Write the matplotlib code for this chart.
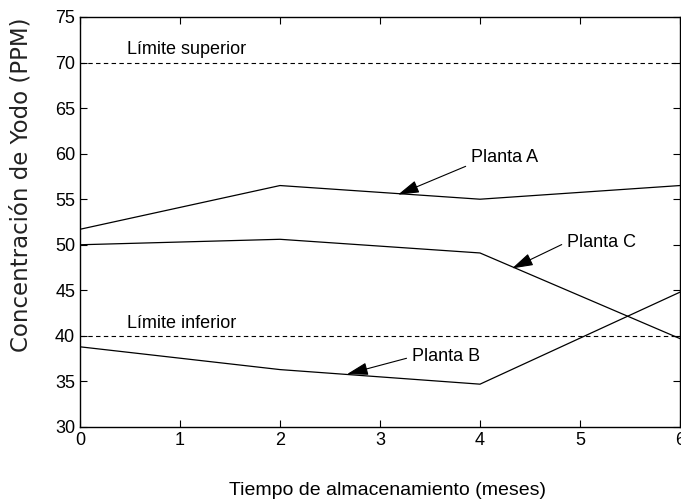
import matplotlib
matplotlib.use("Agg")
import matplotlib.pyplot as plt

# Data
meses = [0, 2, 4, 6]
planta_a = [51.7, 56.5, 55.0, 56.5]
planta_b = [38.8, 36.3, 34.7, 44.8]
planta_c = [50.0, 50.6, 49.1, 39.7]
limite_superior = 70
limite_inferior = 40
x_ticks = [0, 1, 2, 3, 4, 5, 6]
y_ticks = [30, 35, 40, 45, 50, 55, 60, 65, 70, 75]

plt.rcParams["font.family"] = ["Liberation Sans", "DejaVu Sans"]

fig = plt.figure(figsize=(6.81, 5.04), dpi=100)
ax = fig.add_axes([0.1175, 0.1528, 0.881, 0.8135])

for serie in (planta_a, planta_b, planta_c):
    ax.plot(meses, serie, color="black", lw=0.9)

ax.axhline(limite_superior, color="black", lw=0.8, ls=(0, (4, 3)))
ax.axhline(limite_inferior, color="black", lw=0.8, ls=(0, (4, 3)))
ax.text(0.47, limite_superior + 0.45, "Límite superior", fontsize=13, va="bottom")
ax.text(0.47, limite_inferior + 0.45, "Límite inferior", fontsize=13, va="bottom")

arrow = dict(arrowstyle="-|>,head_length=1.0,head_width=0.3", color="black",
             lw=0.8, shrinkA=2, shrinkB=0)
ax.annotate("Planta A", xy=(3.18, 55.5), xytext=(3.91, 59.6), fontsize=13,
            va="center", ha="left", arrowprops=dict(arrow, relpos=(0, 0.1)))
ax.annotate("Planta C", xy=(4.32, 47.4), xytext=(4.87, 50.3), fontsize=13,
            va="center", ha="left", arrowprops=dict(arrow, relpos=(0, 0.5)))
ax.annotate("Planta B", xy=(2.67, 35.8), xytext=(3.32, 37.7), fontsize=13,
            va="center", ha="left", arrowprops=dict(arrow, relpos=(0, 0.5)))

ax.set_xlim(0, 6)
ax.set_ylim(30, 75)
ax.set_xticks(x_ticks)
ax.set_yticks(y_ticks)
ax.tick_params(direction="in", top=True, right=True, labelsize=13, length=5)
for s in ax.spines.values():
    s.set_linewidth(1.0)

ax.set_xlabel("Tiempo de almacenamiento (meses)", fontsize=14)
ax.xaxis.set_label_coords(0.512, -0.134)
ax.set_ylabel("Concentración de Yodo (PPM)", fontsize=16.5,
              family=["DejaVu Sans"], color="#222222")
ax.yaxis.set_label_coords(-0.08, 0.59)

fig.savefig("out.png", dpi=100)
